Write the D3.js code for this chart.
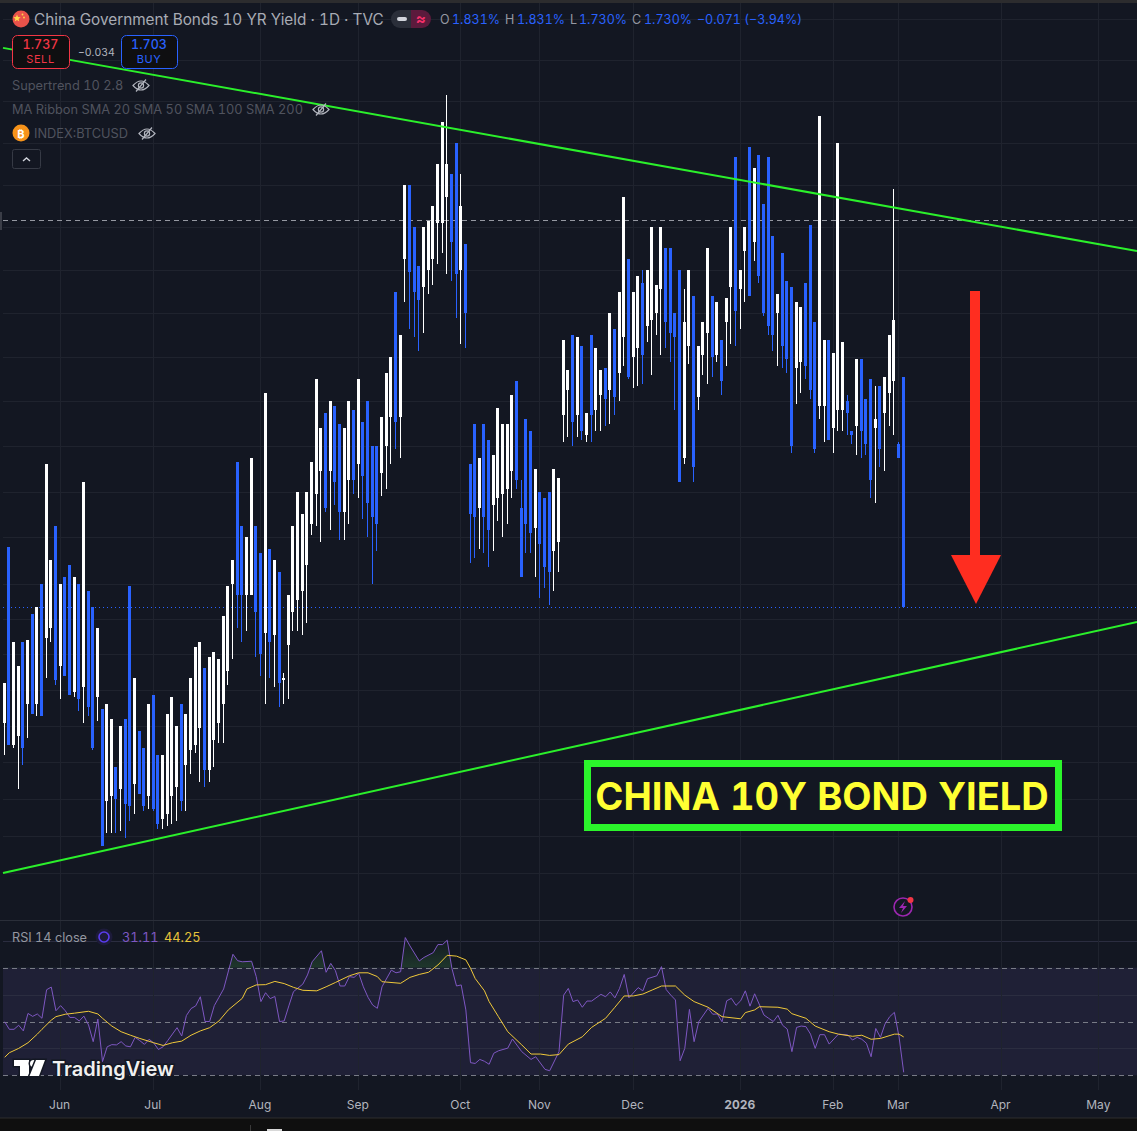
<!DOCTYPE html>
<html><head><meta charset="utf-8">
<script src="https://cdn.jsdelivr.net/npm/d3@7"></script>
<style>
html,body{margin:0;padding:0;background:#131722;overflow:hidden}
svg{display:block}
text{font-family:Inter,"Noto Sans",sans-serif;font-variant-numeric:tabular-nums}
</style></head><body>
<svg id="c" width="1137" height="1131"></svg>
<script>
const opens=[
1.681,1.756,1.672,1.676,1.715,1.689,1.727,1.689,1.740,1.717,
1.721,1.765,1.705,1.743,1.748,1.694,1.740,1.696,1.737,1.730,
1.692,1.687,1.649,1.651,1.663,1.654,1.683,1.739,1.656,1.678,
1.671,1.651,1.693,1.668,1.642,1.644,1.651,1.655,1.689,1.664,
1.670,1.672,1.679,1.704,1.662,1.674,1.681,1.689,1.703,1.740,
1.793,1.765,1.735,1.735,1.765,1.753,1.719,1.755,1.718,1.745,
1.699,1.714,1.728,1.733,1.737,1.748,1.766,1.779,1.789,1.815,
1.789,1.818,1.810,1.771,1.785,1.816,1.792,1.811,1.820,1.800,
1.800,1.788,1.800,1.813,1.870,1.813,1.885,1.920,1.900,1.882,
1.872,1.880,1.885,1.902,1.902,1.914,1.925,1.940,1.880,1.892,
1.792,1.810,1.773,1.810,1.803,1.774,1.777,1.779,1.781,1.789,
1.829,1.773,1.812,1.807,1.764,1.780,1.777,1.780,1.754,1.758,
1.814,1.825,1.850,1.814,1.845,1.805,1.850,1.816,1.823,1.835,
1.825,1.853,1.833,1.849,1.885,1.840,1.844,1.874,1.854,1.857,
1.860,1.871,1.890,1.890,1.860,1.880,1.795,1.845,1.868,1.822,
1.841,1.851,1.868,1.841,1.848,1.856,1.872,1.933,1.871,1.889,
1.938,1.893,1.934,1.911,1.933,1.896,1.860,1.888,1.875,1.872,
1.835,1.838,1.874,1.901,1.856,1.818,1.818,1.848,1.808,1.816,
1.816,1.820,1.807,1.809,1.839,1.821,1.830,1.808,1.827,1.815,
1.824,1.829,1.801,1.831];
const highs=[
1.698,1.756,1.715,1.705,1.715,1.716,1.727,1.730,1.740,1.792,
1.750,1.765,1.740,1.743,1.748,1.743,1.740,1.784,1.737,1.730,
1.721,1.687,1.689,1.683,1.663,1.680,1.683,1.739,1.700,1.678,
1.671,1.689,1.693,1.668,1.668,1.685,1.692,1.680,1.689,1.685,
1.700,1.713,1.715,1.704,1.709,1.711,1.708,1.726,1.739,1.750,
1.793,1.765,1.760,1.795,1.765,1.753,1.824,1.755,1.750,1.745,
1.702,1.735,1.765,1.780,1.770,1.780,1.793,1.830,1.808,1.815,
1.820,1.818,1.810,1.808,1.820,1.816,1.830,1.811,1.820,1.800,
1.800,1.813,1.833,1.840,1.870,1.850,1.920,1.920,1.900,1.882,
1.900,1.903,1.910,1.930,1.950,1.963,1.925,1.940,1.925,1.892,
1.792,1.810,1.795,1.810,1.803,1.796,1.817,1.810,1.810,1.823,
1.829,1.785,1.812,1.807,1.790,1.780,1.777,1.780,1.790,1.786,
1.848,1.834,1.850,1.849,1.845,1.815,1.850,1.844,1.834,1.835,
1.860,1.853,1.870,1.914,1.885,1.870,1.877,1.880,1.880,1.900,
1.873,1.900,1.890,1.890,1.860,1.880,1.871,1.880,1.868,1.845,
1.856,1.890,1.868,1.865,1.848,1.867,1.900,1.933,1.880,1.900,
1.938,1.928,1.934,1.911,1.933,1.896,1.869,1.888,1.875,1.872,
1.865,1.863,1.874,1.901,1.856,1.953,1.848,1.848,1.842,1.940,
1.847,1.823,1.807,1.839,1.839,1.821,1.830,1.827,1.827,1.831,
1.850,1.918,1.802,1.831];
const lows=[
1.668,1.672,1.671,1.654,1.664,1.675,1.685,1.684,1.684,1.700,
1.715,1.697,1.691,1.701,1.693,1.692,1.686,1.681,1.684,1.670,
1.682,1.631,1.636,1.636,1.636,1.637,1.634,1.641,1.644,1.652,
1.645,1.646,1.645,1.638,1.638,1.639,1.640,1.641,1.645,1.645,
1.660,1.669,1.657,1.655,1.657,1.663,1.673,1.673,1.697,1.708,
1.721,1.715,1.720,1.735,1.709,1.701,1.689,1.700,1.696,1.688,
1.689,1.691,1.720,1.720,1.718,1.723,1.761,1.765,1.758,1.771,
1.763,1.774,1.759,1.759,1.766,1.779,1.777,1.768,1.760,1.740,
1.754,1.778,1.781,1.792,1.799,1.795,1.865,1.853,1.849,1.843,
1.851,1.869,1.873,1.883,1.888,1.878,1.875,1.858,1.846,1.844,
1.749,1.751,1.755,1.753,1.747,1.754,1.767,1.760,1.766,1.777,
1.781,1.743,1.753,1.753,1.743,1.734,1.738,1.731,1.737,1.745,
1.802,1.804,1.800,1.804,1.803,1.802,1.802,1.807,1.807,1.809,
1.810,1.814,1.820,1.836,1.830,1.826,1.827,1.828,1.847,1.832,
1.850,1.841,1.844,1.838,1.816,1.784,1.792,1.837,1.784,1.816,
1.832,1.828,1.831,1.838,1.823,1.836,1.846,1.845,1.853,1.865,
1.868,1.884,1.874,1.859,1.850,1.843,1.836,1.835,1.833,1.797,
1.819,1.824,1.830,1.821,1.797,1.812,1.802,1.803,1.797,1.807,
1.807,1.805,1.801,1.796,1.795,1.796,1.777,1.775,1.791,1.789,
1.809,1.805,1.795,1.730];
const closes=[
1.698,1.672,1.715,1.705,1.671,1.716,1.685,1.730,1.684,1.792,
1.750,1.699,1.740,1.701,1.693,1.743,1.691,1.784,1.688,1.671,
1.721,1.631,1.689,1.683,1.650,1.680,1.648,1.647,1.700,1.652,
1.647,1.689,1.646,1.640,1.668,1.685,1.692,1.680,1.649,1.685,
1.700,1.713,1.715,1.662,1.709,1.711,1.708,1.726,1.739,1.750,
1.735,1.735,1.760,1.795,1.728,1.710,1.824,1.715,1.750,1.698,
1.700,1.735,1.765,1.780,1.770,1.780,1.793,1.830,1.808,1.773,
1.820,1.784,1.771,1.808,1.820,1.785,1.830,1.787,1.775,1.769,
1.766,1.813,1.833,1.840,1.811,1.850,1.920,1.879,1.870,1.866,
1.900,1.903,1.910,1.930,1.950,1.930,1.893,1.878,1.910,1.860,
1.770,1.769,1.795,1.769,1.763,1.796,1.817,1.810,1.810,1.823,
1.785,1.743,1.766,1.762,1.790,1.757,1.747,1.745,1.790,1.786,
1.848,1.834,1.811,1.849,1.807,1.815,1.814,1.844,1.834,1.821,
1.860,1.822,1.870,1.914,1.831,1.870,1.877,1.841,1.880,1.900,
1.873,1.900,1.856,1.851,1.849,1.784,1.856,1.880,1.791,1.845,
1.856,1.890,1.840,1.865,1.829,1.867,1.900,1.861,1.880,1.900,
1.868,1.928,1.877,1.860,1.854,1.850,1.869,1.845,1.839,1.800,
1.865,1.863,1.836,1.825,1.799,1.953,1.848,1.803,1.842,1.940,
1.847,1.815,1.805,1.839,1.807,1.801,1.785,1.812,1.799,1.831,
1.850,1.857,1.795,1.730];

const priceTicks=[2.00,1.98,1.96,1.94,1.92,1.90,1.88,1.86,1.84,1.82,1.80,1.78,1.76,1.74,1.725,1.71,1.695,1.68,1.665,1.65,1.635,1.62];
const monthLabels=["Jun","Jul","Aug","Sep","Oct","Nov","Dec","2026","Feb","Mar","Apr","May"];
const monthIndex=[12,32,55,76,98,115,135,158,178,192,214,235];
const lastPrice=1.730, refPrice=1.903;
const upperTrendIdx=[-0.26,243.2], upperTrendVal=[1.9859,1.8888];
const lowerTrendIdx=[-0.26,243.2], lowerTrendVal=[1.6201,1.7236];

const rsiIdx=[0,1,2,3,4,5,6,7,8,9,10,11,12,13,14,15,16,17,18,19,20,21,22,23,24,25,26,27,28,29,30,31,32,33,34,35,37,38,39,40,41,42,43,44,45,46,47,49,50,51,53,54,55,56,57,58,59,60,61,62,64,65,66,68,69,70,71,72,73,74,75,76,77,78,79,80,81,83,84,85,86,87,89,90,92,93,94,95,96,97,98,99,100,101,102,103,104,105,106,108,109,111,113,114,116,117,119,120,121,122,123,124,125,126,128,129,130,131,132,133,134,136,137,138,140,141,142,143,144,145,146,147,148,149,151,152,153,154,155,156,157,158,159,160,161,163,164,165,166,167,168,169,170,171,172,173,174,175,176,177,179,181,182,183,184,185,186,187,188,189,190,191,192,193];
const rsiVal=[49.9,47.1,47.1,48.6,46.5,53.0,51.9,52.8,51.2,61.8,62.8,54.0,55.9,54.0,51.5,51.5,50.2,52.0,48.7,42.5,50.9,35.1,40.6,41.4,41.3,42.5,40.9,40.6,44.1,42.9,41.5,43.4,42.0,39.6,40.6,42.9,47.7,44.6,52.2,54.8,55.8,59.2,50.0,50.0,55.9,59.0,62.1,75.0,72.6,72.2,72.4,66.7,57.4,60.7,58.5,59.3,50.0,50.2,55.8,61.1,63.9,67.3,72.2,76.3,68.3,71.6,68.9,63.2,63.2,66.7,66.4,67.9,62.9,59.0,56.1,54.9,62.9,69.1,68.1,68.5,81.2,78.1,72.5,73.8,75.6,78.6,78.6,80.2,69.8,63.2,63.6,54.3,34.7,34.4,35.9,35.2,34.1,38.2,39.1,40.1,43.5,38.8,35.9,36.9,32.2,31.7,38.8,59.8,62.3,57.4,58.0,55.3,57.6,57.6,60.1,59.2,61.0,58.8,62.3,67.5,58.8,62.6,61.4,65.9,67.0,70.4,61.9,59.8,58.0,35.4,40.0,54.5,42.5,49.9,54.9,52.7,52.8,49.9,57.7,58.6,56.0,57.7,61.4,55.7,60.3,52.4,51.2,50.0,52.3,48.6,47.2,38.8,47.8,48.3,48.1,45.3,40.0,45.1,45.1,41.6,45.3,45.0,43.1,44.1,43.4,41.9,36.9,47.4,44.1,49.1,51.8,53.4,44.3,31.11];
const maIdx=[0,1,3,5,7,8,10,11,13,15,18,20,21,23,25,27,29,32,34,36,38,40,42,44,46,48,51,52,54,56,58,60,62,64,67,69,71,74,76,78,80,81,85,87,89,91,93,95,97,99,100,101,103,104,106,108,111,113,115,117,119,121,124,126,129,131,133,135,137,139,141,144,146,148,151,154,158,159,161,162,166,168,169,172,174,177,179,182,184,186,188,191,192,193];
const maVal=[36.7,38.4,40.0,42.1,45.3,47.1,50.5,51.8,52.7,53.1,53.8,52.8,51.2,48.3,46.2,44.9,43.7,42.1,41.1,42.1,42.7,44.9,46.5,47.7,50.2,54.3,58.6,62.1,63.6,63.7,64.9,64.1,62.7,61.6,61.4,62.9,64.5,67.0,68.1,68.1,66.7,64.8,64.2,66.4,67.5,68.3,71.0,74.6,74.3,72.9,69.8,66.0,61.4,57.4,51.8,46.2,41.3,37.9,37.9,37.4,37.7,41.6,44.3,47.8,51.2,55.3,59.5,59.5,60.2,61.7,63.2,63.2,59.8,57.4,55.3,51.8,51.0,53.3,54.3,55.5,55.3,54.6,52.9,51.2,48.3,46.2,45.3,44.5,44.9,43.4,43.7,45.3,45.3,44.25];
const rsiGrid=[80,60,40], rsiBands=[70,50,30];

const BG="#131722",GRID="#1f232e",BLUE="#2962ff",WHITE="#ffffff",GREEN="#2bf02b",W=1137,H=1131;
const svg=d3.select("#c");
const x=d3.scaleLinear().domain([0,193]).range([4.2,903.2]);
const y=d3.scaleLog().domain([1.62,2.0]).range([873.3,19.2]);
const r=d3.scaleLinear().domain([30,70]).range([1075.3,967.7]);
const col=i=>Math.floor(x(i));

svg.append("rect").attr("width",W).attr("height",H).attr("fill",BG);
svg.append("rect").attr("width",W).attr("height",3).attr("fill","#2c2c2e");

// RSI band
svg.append("rect").attr("x",3).attr("width",W-3).attr("y",r(70)).attr("height",r(30)-r(70)).attr("fill","#1f2036");

// grids
const g=svg.append("g").attr("shape-rendering","crispEdges");
g.selectAll(".hg").data(priceTicks).join("line").attr("x1",3).attr("x2",W)
 .attr("y1",d=>Math.round(y(d))+.5).attr("y2",d=>Math.round(y(d))+.5).attr("stroke",GRID);
g.selectAll(".rg").data(rsiGrid).join("line").attr("x1",3).attr("x2",W)
 .attr("y1",d=>Math.round(r(d))+.5).attr("y2",d=>Math.round(r(d))+.5).attr("stroke","#2b2d40");
g.selectAll(".vg").data(monthIndex).join("line")
 .attr("x1",d=>col(d)+.5).attr("x2",d=>col(d)+.5).attr("y1",3).attr("y2",1090).attr("stroke",GRID);
g.append("line").attr("x1",0).attr("x2",W).attr("y1",920.5).attr("y2",920.5).attr("stroke","#2a2e39");
g.selectAll(".rb").data(rsiBands).join("line").attr("x1",3).attr("x2",W)
 .attr("y1",d=>Math.round(r(d))+.5).attr("y2",d=>Math.round(r(d))+.5)
 .attr("stroke","#787b86").attr("stroke-dasharray","5,4");

// price lines
g.append("line").attr("x1",3).attr("x2",W).attr("y1",Math.round(y(refPrice))-.5).attr("y2",Math.round(y(refPrice))-.5)
 .attr("stroke","#9598a1").attr("stroke-dasharray","5,4");
g.append("line").attr("x1",3).attr("x2",W).attr("y1",Math.round(y(lastPrice))+.5).attr("y2",Math.round(y(lastPrice))+.5)
 .attr("stroke",BLUE).attr("stroke-dasharray","1,3");
g.append("rect").attr("x",0).attr("y",Math.round(y(refPrice))-9).attr("width",2).attr("height",18).attr("fill","#3a3d47");

// candles
const idx=d3.range(opens.length);
const cg=svg.append("g").attr("shape-rendering","crispEdges");
const colr=i=>closes[i]>=opens[i]?WHITE:BLUE;
cg.selectAll(".w").data(idx).join("rect").attr("x",col).attr("width",1)
 .attr("y",i=>Math.round(y(highs[i]))).attr("height",i=>Math.max(1,Math.round(y(lows[i]))-Math.round(y(highs[i]))))
 .attr("fill",colr);
cg.selectAll(".b").data(idx).join("rect").attr("x",i=>col(i)-1).attr("width",3)
 .attr("y",i=>Math.round(y(Math.max(opens[i],closes[i]))))
 .attr("height",i=>Math.max(1,Math.round(y(Math.min(opens[i],closes[i])))-Math.round(y(Math.max(opens[i],closes[i])))))
 .attr("fill",colr);

// trend lines
const tl=d3.line().x(d=>x(d[0])).y(d=>y(d[1]));
svg.append("path").attr("d",tl(d3.zip(upperTrendIdx,upperTrendVal))).attr("stroke",GREEN).attr("stroke-width",2).attr("fill","none");
svg.append("path").attr("d",tl(d3.zip(lowerTrendIdx,lowerTrendVal))).attr("stroke",GREEN).attr("stroke-width",2).attr("fill","none");

// RSI
const defs=svg.append("defs");
const gr=defs.append("linearGradient").attr("id","ob").attr("x1",0).attr("x2",0).attr("y1",0).attr("y2",1);
gr.append("stop").attr("offset","0%").attr("stop-color","#4caf50").attr("stop-opacity",.0);
gr.append("stop").attr("offset","30%").attr("stop-color","#4caf50").attr("stop-opacity",.28);
gr.append("stop").attr("offset","100%").attr("stop-color","#4caf50").attr("stop-opacity",.02);
defs.append("clipPath").attr("id","above").append("rect").attr("x",0).attr("y",925).attr("width",W).attr("height",r(70)-925);
const rsiPts=d3.zip(rsiIdx,rsiVal), maPts=d3.zip(maIdx,maVal);
svg.append("path").attr("clip-path","url(#above)").attr("fill","url(#ob)")
 .attr("d",d3.area().x(d=>x(d[0])+.5).y0(r(70)).y1(d=>r(d[1]))(rsiPts));
const rl=d3.line().x(d=>x(d[0])+.5).y(d=>r(d[1]));
svg.append("path").attr("d",rl(rsiPts)).attr("fill","none").attr("stroke","#7e57c2").attr("stroke-width",1);
svg.append("path").attr("d",rl(maPts)).attr("fill","none").attr("stroke","#f0c93a").attr("stroke-width",1);

// time axis
const ax=d3.axisBottom(x).tickValues(monthIndex).tickFormat((d,i)=>monthLabels[i]).tickSize(0).tickPadding(0);
const axg=svg.append("g").attr("transform","translate(-1,1100)").call(ax);
axg.select(".domain").remove();
axg.selectAll("text").attr("fill","#b2b5be").attr("font-size",12).attr("font-family","Inter,sans-serif")
 .attr("font-weight",(d,i)=>monthLabels[i]==="2026"?700:400);

// bottom strip
svg.append("rect").attr("y",1118).attr("width",W).attr("height",13).attr("fill","#0f0f0f");
svg.append("line").attr("x1",0).attr("x2",W).attr("y1",1118).attr("y2",1118).attr("stroke","#2e2e2e");
svg.append("rect").attr("x",250).attr("y",1125).attr("width",1).attr("height",6).attr("fill","#3a3a3a");
svg.append("rect").attr("x",267).attr("y",1129).attr("width",15).attr("height",2).attr("fill","#d8d8d8");

// annotation box
svg.append("rect").attr("x",587.5).attr("y",763.5).attr("width",471).attr("height",64)
 .attr("fill",BG).attr("stroke","#2bf52b").attr("stroke-width",7);
svg.append("text").attr("x",822).attr("y",810).attr("text-anchor","middle").attr("fill","#ffff33")
 .attr("font-family","'Liberation Sans',Arial,sans-serif").attr("font-weight",700).attr("font-size",38).text("CHINA 10Y BOND YIELD");

// arrow
svg.append("rect").attr("x",970).attr("y",291).attr("width",10).attr("height",265).attr("fill","#ff2d20");
svg.append("path").attr("d","M951,555L1001,555L976,604Z").attr("fill","#ff2d20");

// legend
function t(xp,yp,s,fs,c,w){return svg.append("text").attr("x",xp).attr("y",yp).attr("font-size",fs).attr("fill",c).attr("font-weight",w||400).text(s);}
svg.append("circle").attr("cx",21).attr("cy",19).attr("r",8.5).attr("fill","#e8524a");
svg.append("path").attr("d","M17,14.5l1,2.6 2.7.1-2.1,1.7.7,2.6-2.3-1.5-2.3,1.5.7-2.6-2.1-1.7 2.7-.1z").attr("fill","#ffd84a");
svg.append("circle").attr("cx",22.5).attr("cy",14.5).attr("r",.9).attr("fill","#ffd84a");
svg.append("circle").attr("cx",24).attr("cy",17.5).attr("r",.9).attr("fill","#ffd84a");
t(34,25,"China Government Bonds 10 YR Yield · 1D · TVC",15.3,"#a8abb4");
svg.append("path").attr("d","M411,10H400a9,9 0 0 0 0,18H411Z").attr("fill","#2a2e39");
svg.append("path").attr("d","M411,10H422a9,9 0 0 1 0,18H411Z").attr("fill","#5b1a3c");
svg.append("rect").attr("x",397).attr("y",17).attr("width",10).attr("height",4).attr("rx",2).attr("fill","#d1d4dc");
t(416,24,"≈",15,"#f7306a",700);
const ohlcLabels=["O","H","L","C"],ohlcLabX=[440,505,570,632],ohlcVals=["1.831%","1.831%","1.730%","1.730%"],ohlcValX=[452,517,579,644];
ohlcLabels.forEach((l,i)=>{t(ohlcLabX[i],24,l,12.5,"#9598a1");t(ohlcValX[i],24,ohlcVals[i],12.5,BLUE);});
t(697,24,"−0.071 (−3.94%)",12.5,BLUE);

function box(xp,w,c,v,l){
 svg.append("rect").attr("x",xp+.5).attr("y",35.5).attr("width",w).attr("height",33).attr("rx",5).attr("fill","#0f0f11").attr("stroke",c);
 t(xp+w/2,49,v,12.5,c,500).attr("text-anchor","middle");
 t(xp+w/2,63,l,11,c).attr("text-anchor","middle").attr("letter-spacing",.6);
}
box(12,57,"#f23645","1.737","SELL");
box(121,56,"#2962ff","1.703","BUY");
t(78,56,"−0.034",10.5,"#b2b5be");

function eye(cx,cy){
 const e=svg.append("g").attr("fill","none").attr("stroke","#b2b5be").attr("stroke-width",1.2);
 e.append("path").attr("d",`M${cx-8},${cy}Q${cx},${cy-9} ${cx+8},${cy}Q${cx},${cy+9} ${cx-8},${cy}Z`);
 e.append("circle").attr("cx",cx).attr("cy",cy).attr("r",2.6);
 e.append("path").attr("d",`M${cx-5},${cy+6}L${cx+5},${cy-6}`);
}
t(12,90,"Supertrend 10 2.8",12.8,"#50535e");eye(141,85.5);
t(12,114,"MA Ribbon SMA 20 SMA 50 SMA 100 SMA 200",12.8,"#50535e");eye(321,109.5);
svg.append("circle").attr("cx",21).attr("cy",133).attr("r",8.5).attr("fill","#f7931a");
t(21,137.5,"₿",11,"#fff",700).attr("text-anchor","middle");
t(34,138,"INDEX:BTCUSD",12.8,"#50535e");eye(147,133.5);
svg.append("rect").attr("x",12.5).attr("y",149.5).attr("width",28).attr("height",19).attr("rx",2).attr("fill",BG).attr("stroke","#363a45");
svg.append("path").attr("d","M23,161l3.5-3 3.5,3").attr("fill","none").attr("stroke","#d1d4dc").attr("stroke-width",1.4);

// RSI legend
t(12,942,"RSI 14 close",12.7,"#9598a1");
svg.append("circle").attr("cx",104).attr("cy",937).attr("r",8.5).attr("fill","#1d1b3a");
svg.append("circle").attr("cx",104).attr("cy",937).attr("r",5).attr("fill","none").attr("stroke","#5b3df0").attr("stroke-width",1.6);
t(122,942,"31.11",12.8,"#7e57c2");
t(164,942,"44.25",12.8,"#e8c33a");

// lightning
svg.append("circle").attr("cx",903).attr("cy",907).attr("r",9).attr("fill",BG).attr("stroke","#9c27b0").attr("stroke-width",1.6);
svg.append("path").attr("d","M905,901L899,908H903L901,913L907,906H903Z").attr("fill","#9c27b0");
svg.append("circle").attr("cx",910.5).attr("cy",900).attr("r",3).attr("fill","#f23645");

// logo
const lg=svg.append("g").attr("fill","#fff").attr("stroke","#131722").attr("stroke-width",3).attr("paint-order","stroke");
lg.append("path").attr("d","M14,1060H29V1076H20V1066H14Z");
lg.append("circle").attr("cx",33.5).attr("cy",1063.5).attr("r",3.5);
lg.append("path").attr("d","M36,1060H45L39,1076H29.5Z");
svg.append("text").attr("x",52).attr("y",1076).attr("font-size",20).attr("font-weight",600).attr("fill","#f0f0f0")
 .attr("stroke","#131722").attr("stroke-width",3).attr("paint-order","stroke").text("TradingView");
</script>
</body></html>
